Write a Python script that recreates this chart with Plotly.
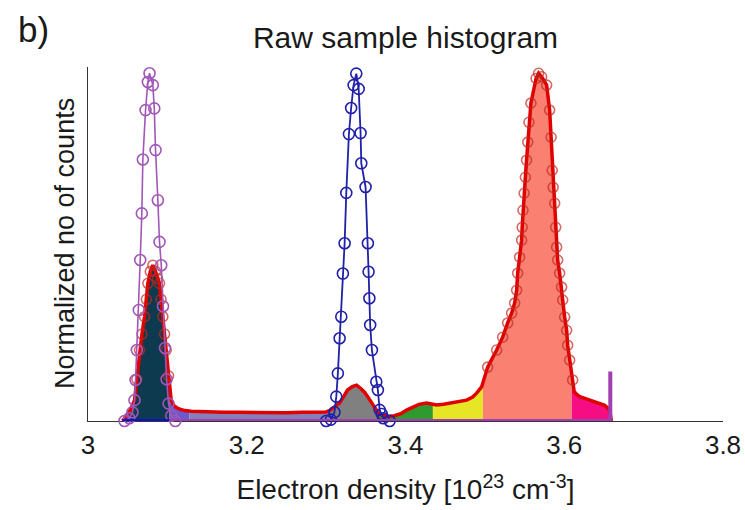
import numpy as np
import plotly.graph_objects as go

# ---------------- data ----------------
# Raw sample histogram (red)
sample_x = [3.0435, 3.048, 3.053, 3.0586, 3.0615, 3.0649, 3.068, 3.0712, 3.0735, 3.0754,
            3.0785, 3.0817, 3.0850, 3.0875, 3.0901, 3.0920, 3.0943, 3.0965, 3.0985, 3.1015,
            3.1048, 3.108, 3.112, 3.117, 3.122, 3.130, 3.15, 3.17, 3.19, 3.21, 3.23, 3.25,
            3.27, 3.29, 3.300, 3.3043, 3.310, 3.3169, 3.322, 3.327, 3.333, 3.3383, 3.343,
            3.3484, 3.353, 3.3573, 3.361, 3.3648, 3.370, 3.378, 3.386, 3.395, 3.402, 3.409,
            3.417, 3.4266, 3.433, 3.4392, 3.448, 3.4594, 3.468, 3.477, 3.4846, 3.4896,
            3.4959, 3.5035, 3.5148, 3.5224, 3.5287, 3.5337, 3.5375, 3.5400, 3.5413, 3.5438,
            3.5463, 3.5470, 3.5480, 3.5495, 3.5510, 3.5525, 3.5540, 3.5555, 3.5580, 3.5645,
            3.5677, 3.5715, 3.5778, 3.5816, 3.5835, 3.5848, 3.5860, 3.5879, 3.5892, 3.5904,
            3.5917, 3.5942, 3.5967, 3.5980, 3.6005, 3.6030, 3.6043, 3.6068, 3.6106, 3.6125,
            3.615, 3.6194, 3.626, 3.632, 3.638, 3.6446, 3.651, 3.6572, 3.6594]
sample_y = [0.0, 0.015, 0.03, 0.060, 0.12, 0.204, 0.25, 0.300, 0.35, 0.396,
            0.43, 0.448, 0.43, 0.41, 0.396, 0.35, 0.300, 0.25, 0.204, 0.13,
            0.060, 0.045, 0.038, 0.033, 0.030, 0.028, 0.026, 0.025, 0.025, 0.024, 0.024, 0.024,
            0.025, 0.026, 0.026, 0.030, 0.040, 0.052, 0.070, 0.089, 0.099, 0.103, 0.095,
            0.083, 0.068, 0.052, 0.038, 0.026, 0.017, 0.014, 0.015, 0.022, 0.032, 0.040,
            0.048, 0.052, 0.049, 0.046, 0.048, 0.052, 0.056, 0.060, 0.069, 0.080,
            0.098, 0.155, 0.204, 0.241, 0.282, 0.310, 0.339, 0.376, 0.425, 0.471,
            0.520, 0.557, 0.606, 0.655, 0.701, 0.750, 0.802, 0.859, 0.914, 0.985,
            1.0, 0.99, 0.966, 0.894, 0.816, 0.721, 0.672, 0.626, 0.557, 0.500,
            0.463, 0.425, 0.385, 0.348, 0.299, 0.261, 0.218, 0.175, 0.118, 0.085,
            0.078, 0.070, 0.065, 0.060, 0.056, 0.051, 0.045, 0.032, 0.0]

# Reference peak 1 (purple)
ref1_x = [3.046, 3.052, 3.0560, 3.0586, 3.0599, 3.0615, 3.0640, 3.0658, 3.0678, 3.0691,
          3.0725, 3.0754, 3.0775, 3.0817, 3.0835, 3.0851, 3.0880, 3.0901, 3.0923, 3.0945,
          3.097, 3.099, 3.1015, 3.105, 3.110]
ref1_y = [0.0, 0.008, 0.025, 0.060, 0.118, 0.204, 0.319, 0.463, 0.597, 0.752,
          0.894, 0.975, 1.0, 0.966, 0.899, 0.779, 0.635, 0.515, 0.448, 0.33,
          0.21, 0.12, 0.05, 0.015, 0.0]

# Reference peak 2 (blue)
ref2_x = [3.300, 3.306, 3.3105, 3.3128, 3.3148, 3.3170, 3.3191, 3.3211, 3.3233, 3.3254,
          3.3287, 3.3315, 3.3346, 3.3380, 3.3410, 3.3434, 3.3443, 3.3497, 3.3526, 3.3535,
          3.3545, 3.3555, 3.3577, 3.3632, 3.3652, 3.3674, 3.3700, 3.372, 3.380]
ref2_y = [0.0, 0.004, 0.025, 0.070, 0.137, 0.238, 0.300, 0.424, 0.511, 0.656,
          0.825, 0.90, 0.966, 0.999, 0.955, 0.828, 0.741, 0.673, 0.511, 0.429,
          0.353, 0.276, 0.204, 0.113, 0.089, 0.032, 0.020, 0.008, 0.0]

# Baselines and end spike
purple_base_x = [3.1027, 3.658, 3.658]
purple_base_y = [0.0, 0.0, 0.142]
blue_base_x = [3.0435, 3.1027]
blue_base_y = [0.0, 0.0]

# Coloured segments of the sample histogram
seg_edges = [3.0435, 3.1027, 3.128, 3.3043, 3.3654, 3.4345, 3.4975, 3.6094, 3.6594]
seg_colors = ["#0d3a4f", "#6a5acd", "#8581b8", "#808080", "#2f9a2f", "#e6e626",
              "#fa8072", "#f50d84"]

tick_vals = [3.0, 3.2, 3.4, 3.6, 3.8]
tick_text = ["3", "3.2", "3.4", "3.6", "3.8"]

# ---------------- figure ----------------
FONT = "Liberation Sans, Arial, Helvetica, sans-serif"
sx = np.array(sample_x)
sy = np.array(sample_y)

fig = go.Figure()

for a, b, col in zip(seg_edges[:-1], seg_edges[1:], seg_colors):
    m = (sx > a) & (sx < b)
    ya = float(np.interp(a, sx, sy))
    yb = float(np.interp(b, sx, sy))
    px = [a, a] + sx[m].tolist() + [b, b]
    py = [0.0, ya] + sy[m].tolist() + [yb, 0.0]
    fig.add_trace(go.Scatter(x=px, y=py, mode="lines", fill="toself",
                             fillcolor=col, line=dict(width=0, color=col),
                             hoverinfo="skip", showlegend=False))

# red sample line
fig.add_trace(go.Scatter(x=sample_x, y=sample_y, mode="lines",
                         line=dict(color="#e00000", width=3.5),
                         showlegend=False, cliponaxis=False))
# red circles (on the raised part of the histogram)
msize = np.where(sy >= 0.11, 10, 0).tolist()
fig.add_trace(go.Scatter(x=sample_x, y=sample_y, mode="markers",
                         marker=dict(symbol="circle-open", size=msize,
                                     color="#c02a20", line=dict(width=1.6)),
                         showlegend=False, cliponaxis=False))

# purple reference
fig.add_trace(go.Scatter(x=ref1_x, y=ref1_y, mode="lines+markers",
                         line=dict(color="#a157b8", width=1.6),
                         marker=dict(symbol="circle-open", size=11, color="#a157b8",
                                     line=dict(width=1.6)),
                         showlegend=False, cliponaxis=False))
# blue reference
fig.add_trace(go.Scatter(x=ref2_x, y=ref2_y, mode="lines+markers",
                         line=dict(color="#2020a8", width=1.8),
                         marker=dict(symbol="circle-open", size=11, color="#2020a8",
                                     line=dict(width=1.6)),
                         showlegend=False, cliponaxis=False))

# baselines
fig.add_trace(go.Scatter(x=blue_base_x, y=blue_base_y, mode="lines",
                         line=dict(color="#1010c8", width=4),
                         showlegend=False, cliponaxis=False))
fig.add_trace(go.Scatter(x=purple_base_x, y=purple_base_y, mode="lines",
                         line=dict(color="#a040b0", width=4),
                         showlegend=False, cliponaxis=False))

fig.update_layout(
    width=745, height=510,
    margin=dict(l=88, r=22, t=67, b=89, autoexpand=False),
    paper_bgcolor="white", plot_bgcolor="white",
    font=dict(family=FONT, color="#1a1a1a", size=26),
    title=dict(text="Raw sample histogram", x=0.5, xref="paper",
               y=1 - 37 / 510, yanchor="middle", automargin=False,
               font=dict(family=FONT, size=30, color="#1a1a1a")),
    xaxis=dict(range=[3.0, 3.8], tickvals=tick_vals, ticktext=tick_text,
               automargin=False,
               showline=True, linecolor="#333333", linewidth=1.3,
               ticks="inside", ticklen=7, tickcolor="#333333", tickwidth=1.3,
               showgrid=False, zeroline=False, layer="below traces",
               ticklabelstandoff=1,
               tickfont=dict(family=FONT, size=26, color="#1a1a1a"),
               title=dict(text="Electron density [10<sup>23</sup> cm<sup>-3</sup>]",
                          standoff=20,
                          font=dict(family=FONT, size=28, color="#1a1a1a"))),
    yaxis=dict(range=[0, 1.018], showline=True, linecolor="#333333", linewidth=1.3,
               automargin=False,
               showticklabels=False, ticks="", showgrid=False, zeroline=False,
               layer="below traces"),
    annotations=[
        dict(text="Normalized no of counts", xref="paper", yref="paper",
             x=(65 - 88) / 635, y=0.5, xanchor="center", yanchor="middle",
             textangle=-90, showarrow=False,
             font=dict(family=FONT, size=27, color="#1a1a1a")),
        dict(text="b)", xref="paper", yref="paper",
             x=(16 - 88) / 635, y=(421 - 30) / 354, xanchor="left", yanchor="middle",
             showarrow=False, font=dict(family=FONT, size=35, color="#1a1a1a")),
    ],
)

fig.write_html("out.html")
